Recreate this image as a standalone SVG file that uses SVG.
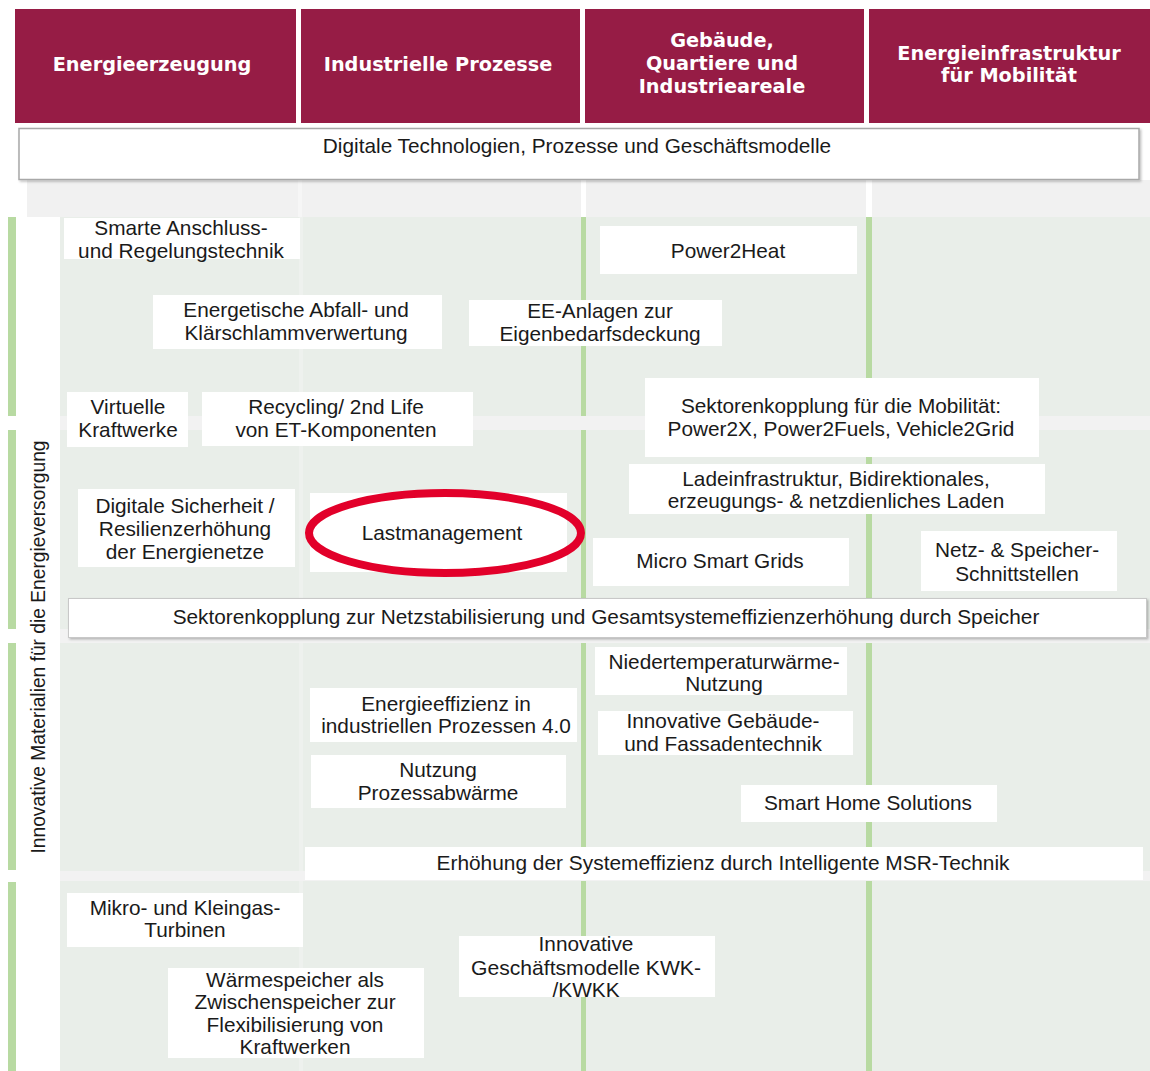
<svg xmlns="http://www.w3.org/2000/svg" width="1150" height="1071" viewBox="0 0 1150 1071">
<style>
.hdr{fill:#961c45}
.ht{font-family:"DejaVu Sans",Verdana,sans-serif;font-weight:bold;font-size:19.3px;fill:#fff;text-anchor:middle}
.box{fill:#fff}
.t{font-family:"Liberation Sans",Arial,sans-serif;font-size:20.8px;fill:#1a1a1a;text-anchor:middle}
.bar{fill:#fff;stroke:#c8c8c8;stroke-width:1}
.gl{fill:#b8daa2}
.band{fill:#f2f2f2}
</style>
<defs>
  <filter id="sh" x="-2%" y="-20%" width="104%" height="150%"><feDropShadow dx="1.5" dy="1.5" stdDeviation="1" flood-color="#000" flood-opacity="0.25"/></filter>
</defs>
<rect width="1150" height="1071" fill="#fff"/>
<g id="background">
  <rect x="27" y="180" width="1123" height="37" fill="#f1f1f1"/>
  <rect x="298" y="180" width="4" height="37" fill="#f6f6f6"/>
  <rect x="581" y="180" width="5" height="37" fill="#fff"/>
  <rect x="866" y="180" width="6" height="37" fill="#fff"/>
  <rect x="60" y="217" width="1090" height="854" fill="#e9eee9"/>
  <rect x="299" y="217" width="4" height="854" fill="#eef1ee"/>
  <rect class="band" x="60" y="416" width="1090" height="14"/>
  <rect class="band" x="60" y="629" width="1090" height="14"/>
  <rect class="band" x="60" y="871" width="1090" height="10"/>
  <rect class="gl" x="581" y="217" width="5" height="199"/>
  <rect class="gl" x="581" y="430" width="5" height="199"/>
  <rect class="gl" x="581" y="643" width="5" height="228"/>
  <rect class="gl" x="581" y="881" width="5" height="190"/>
  <rect class="gl" x="866" y="217" width="6" height="199"/>
  <rect class="gl" x="866" y="430" width="6" height="199"/>
  <rect class="gl" x="866" y="643" width="6" height="228"/>
  <rect class="gl" x="866" y="881" width="6" height="190"/>
  <rect class="gl" x="8" y="217" width="8" height="199"/>
  <rect class="gl" x="8" y="430" width="8" height="199"/>
  <rect class="gl" x="8" y="643" width="8" height="227"/>
  <rect class="gl" x="8" y="882" width="8" height="189"/>
</g>
<g id="h-energieerzeugung"><rect class="hdr" x="15" y="9" width="281" height="114"/><text class="ht" x="152" y="71">Energieerzeugung</text></g>
<g id="h-industrielle"><rect class="hdr" x="301" y="9" width="279" height="114"/><text class="ht" x="438" y="71">Industrielle Prozesse</text></g>
<g id="h-gebaeude"><rect class="hdr" x="585" y="9" width="279" height="114"/><text class="ht" x="722" y="47">Gebäude,</text><text class="ht" x="722" y="70">Quartiere und</text><text class="ht" x="722" y="93">Industrieareale</text></g>
<g id="h-mobilitaet"><rect class="hdr" x="869" y="9" width="281" height="114"/><text class="ht" x="1009" y="60">Energieinfrastruktur</text><text class="ht" x="1009" y="82">für Mobilität</text></g>
<g id="digitale"><rect x="19" y="128.5" width="1120" height="51" fill="#fff" stroke="#a8a8a8" stroke-width="1.5" filter="url(#sh)"/><text class="t" x="577" y="153">Digitale Technologien, Prozesse und Geschäftsmodelle</text></g>
<g id="side-label"><text class="t" transform="translate(45,647) rotate(-90)" textLength="413" lengthAdjust="spacingAndGlyphs">Innovative Materialien für die Energieversorgung</text></g>
<g id="smarte"><rect class="box" x="64" y="218" width="236" height="41"/><text class="t" x="181" y="235">Smarte Anschluss-</text><text class="t" x="181" y="258">und Regelungstechnik</text></g>
<g id="power2heat"><rect class="box" x="600" y="226" width="257" height="48"/><text class="t" x="728" y="258">Power2Heat</text></g>
<g id="abfall"><rect class="box" x="153" y="295" width="289" height="54"/><text class="t" x="296" y="317">Energetische Abfall- und</text><text class="t" x="296" y="340">Klärschlammverwertung</text></g>
<g id="ee-anlagen"><rect class="box" x="469" y="300" width="253" height="46"/><text class="t" x="600" y="318">EE-Anlagen zur</text><text class="t" x="600" y="341">Eigenbedarfsdeckung</text></g>
<g id="virtuelle"><rect class="box" x="67" y="392" width="121" height="55"/><text class="t" x="128" y="414">Virtuelle</text><text class="t" x="128" y="437">Kraftwerke</text></g>
<g id="recycling"><rect class="box" x="202" y="392" width="271" height="54"/><text class="t" x="336" y="414">Recycling/ 2nd Life</text><text class="t" x="336" y="437">von ET-Komponenten</text></g>
<g id="sektor-mobil"><rect class="box" x="645" y="378" width="394" height="79"/><text class="t" x="841" y="413">Sektorenkopplung für die Mobilität:</text><text class="t" x="841" y="436">Power2X, Power2Fuels, Vehicle2Grid</text></g>
<g id="ladeinfra"><rect class="box" x="629" y="464" width="416" height="50"/><text class="t" x="836" y="486">Ladeinfrastruktur, Bidirektionales,</text><text class="t" x="836" y="508">erzeugungs- &amp; netzdienliches Laden</text></g>
<g id="sicherheit"><rect class="box" x="78" y="489" width="217" height="78"/><text class="t" x="185" y="513">Digitale Sicherheit /</text><text class="t" x="185" y="536">Resilienzerhöhung</text><text class="t" x="185" y="559">der Energienetze</text></g>
<g id="lastmanagement"><rect class="box" x="310" y="493" width="257" height="79"/><text class="t" x="442" y="540">Lastmanagement</text></g>
<g id="micro-grids"><rect class="box" x="593" y="538" width="256" height="48"/><text class="t" x="720" y="568">Micro Smart Grids</text></g>
<g id="netz-speicher"><rect class="box" x="921" y="531" width="196" height="60"/><text class="t" x="1017" y="557">Netz- &amp; Speicher-</text><text class="t" x="1017" y="581">Schnittstellen</text></g>
<g id="sektor-netz"><rect class="bar" x="68.5" y="598.5" width="1078" height="39" filter="url(#sh)"/><text class="t" x="606" y="624">Sektorenkopplung zur Netzstabilisierung und Gesamtsystemeffizienzerhöhung durch Speicher</text></g>
<g id="niedertemp"><rect class="box" x="595" y="647" width="252" height="48"/><text class="t" x="724" y="669">Niedertemperaturwärme-</text><text class="t" x="724" y="691">Nutzung</text></g>
<g id="energieeffizienz"><rect class="box" x="310" y="688" width="267" height="54"/><text class="t" x="446" y="711">Energieeffizienz in</text><text class="t" x="446" y="733">industriellen Prozessen 4.0</text></g>
<g id="fassade"><rect class="box" x="598" y="711" width="255" height="44"/><text class="t" x="723" y="728">Innovative Gebäude-</text><text class="t" x="723" y="751">und Fassadentechnik</text></g>
<g id="prozessabwaerme"><rect class="box" x="311" y="755" width="255" height="53"/><text class="t" x="438" y="777">Nutzung</text><text class="t" x="438" y="800">Prozessabwärme</text></g>
<g id="smart-home"><rect class="box" x="741" y="785" width="256" height="37"/><text class="t" x="868" y="810">Smart Home Solutions</text></g>
<g id="msr"><rect class="box" x="305" y="847" width="838" height="33"/><text class="t" x="723" y="870" textLength="573" lengthAdjust="spacingAndGlyphs">Erhöhung der Systemeffizienz durch Intelligente MSR-Technik</text></g>
<g id="mikro-turbinen"><rect class="box" x="67" y="893" width="236" height="54"/><text class="t" x="185" y="915">Mikro- und Kleingas-</text><text class="t" x="185" y="937">Turbinen</text></g>
<g id="kwk"><rect class="box" x="459" y="936" width="256" height="61"/><text class="t" x="586" y="951">Innovative</text><text class="t" x="586" y="975" textLength="230" lengthAdjust="spacingAndGlyphs">Geschäftsmodelle KWK-</text><text class="t" x="586" y="997">/KWKK</text></g>
<g id="waermespeicher"><rect class="box" x="168" y="968" width="256" height="90"/><text class="t" x="295" y="987">Wärmespeicher als</text><text class="t" x="295" y="1009">Zwischenspeicher zur</text><text class="t" x="295" y="1032">Flexibilisierung von</text><text class="t" x="295" y="1054">Kraftwerken</text></g>
<g id="highlight"><ellipse cx="445" cy="533" rx="136" ry="40" fill="none" stroke="#e2002a" stroke-width="8"/></g>
</svg>
